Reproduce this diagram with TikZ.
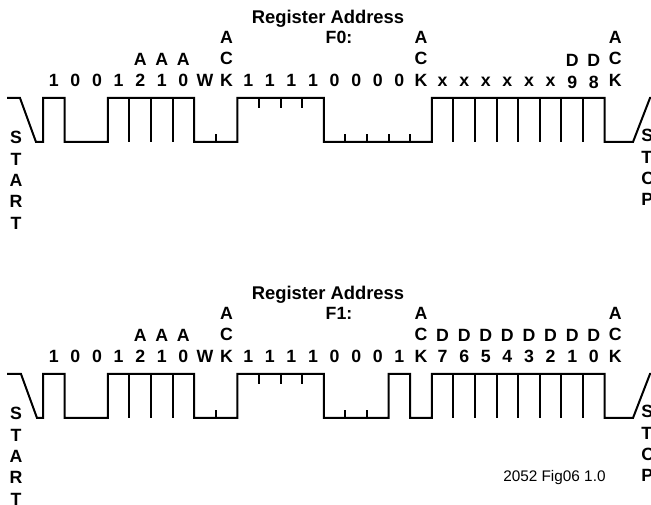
\documentclass[tikz,border=0pt]{standalone}
\usepackage{fontspec}
\setmainfont{Liberation Sans}
\newcommand{\tb}[1]{43+21.6*#1}
\begin{document}
\begin{tikzpicture}[x=0.75pt,y=-0.75pt,
  wave/.style={line width=1.5pt, line join=miter, line cap=butt},
  lbl/.style={anchor=base, inner sep=0pt, font=\bfseries\fontsize{13.3}{16}\selectfont},
  title/.style={anchor=base, inner sep=0pt, font=\bfseries\fontsize{13.8}{16}\selectfont},
  stoplbl/.style={lbl, anchor=base west}]
\useasboundingbox (0,0) rectangle (651,505);
\clip (0,0) rectangle (651,505);

% ================= TOP (F0) =================
\draw[wave] (7,98) -- (20,98) -- (36,142) -- (43,142) -- (43,98)
  -- (\tb{1},98) -- (\tb{1},142) -- (\tb{3},142) -- (\tb{3},98)
  -- (\tb{7},98) -- (\tb{7},142) -- (\tb{9},142) -- (\tb{9},98)
  -- (\tb{13},98) -- (\tb{13},142) -- (\tb{18},142) -- (\tb{18},98)
  -- (\tb{26},98) -- (\tb{26},142) -- (633,142) -- (650,98) -- (660,98);
\foreach \k in {4,5,6,19,20,21,22,23,24,25}
  \draw[wave] (\tb{\k},98) -- (\tb{\k},142);
\foreach \k in {8,14,15,16,17}
  \draw[wave] (\tb{\k},142) -- (\tb{\k},134);
\foreach \k in {10,11,12}
  \draw[wave] (\tb{\k},98) -- (\tb{\k},108);

\foreach \s [count=\k from 0] in {1,0,0,1,2,1,0,W,K,1,1,1,1,0,0,0,0,K,x,x,x,x,x,x}
  \node[lbl] (ta\k) at ({\tb{\k}+10.8},87) {\s};
\node[lbl] (ta24) at ({\tb{24}+10.8},89) {9};
\node[lbl] (ta25) at ({\tb{25}+10.8},89) {8};
\node[lbl] (ta26) at ({\tb{26}+10.8},87) {K};
\foreach \k in {4,5,6}
  \node[lbl] (tb\k) at ({\tb{\k}+10.8},66) {A};
\foreach \k in {8,17,26}
  \node[lbl] (tb\k) at ({\tb{\k}+10.8},65) {C};
\foreach \k in {24,25}
  \node[lbl] (tb\k) at ({\tb{\k}+10.8},66.5) {D};
\foreach \k in {8,17,26}
  \node[lbl] (tc\k) at ({\tb{\k}+10.8},44) {A};
\node[lbl] (tf) at (339,44) {F0:};
\node[title] (tr) at (328,24) {Register Address};

\foreach \s [count=\i from 0] in {S,T,A,R,T}
  \node[lbl] (tstart\i) at (16,144+21.3*\i) {\s};
\foreach \s [count=\i from 0] in {S,T,O,P}
  \node[stoplbl] (tstop\i) at (641,142+21.2*\i) {\s};

% ================= BOTTOM (F1) =================
\draw[wave] (7,374) -- (21,374) -- (37,418) -- (43,418) -- (43,374)
  -- (\tb{1},374) -- (\tb{1},418) -- (\tb{3},418) -- (\tb{3},374)
  -- (\tb{7},374) -- (\tb{7},418) -- (\tb{9},418) -- (\tb{9},374)
  -- (\tb{13},374) -- (\tb{13},418) -- (\tb{16},418) -- (\tb{16},374)
  -- (\tb{17},374) -- (\tb{17},418) -- (\tb{18},418) -- (\tb{18},374)
  -- (\tb{26},374) -- (\tb{26},418) -- (633,418) -- (650,374) -- (660,374);
\foreach \k in {4,5,6,19,20,21,22,23,24,25}
  \draw[wave] (\tb{\k},374) -- (\tb{\k},418);
\foreach \k in {8,14,15}
  \draw[wave] (\tb{\k},418) -- (\tb{\k},410);
\foreach \k in {10,11,12}
  \draw[wave] (\tb{\k},374) -- (\tb{\k},384);

\foreach \s [count=\k from 0] in {1,0,0,1,2,1,0,W,K,1,1,1,1,0,0,0,1,K,7,6,5,4,3,2,1,0,K}
  \node[lbl] (ba\k) at ({\tb{\k}+10.8},363) {\s};
\foreach \k in {4,5,6}
  \node[lbl] (bb\k) at ({\tb{\k}+10.8},342) {A};
\foreach \k in {8,17,26}
  \node[lbl] (bb\k) at ({\tb{\k}+10.8},341) {C};
\foreach \k in {18,...,25}
  \node[lbl] (bb\k) at ({\tb{\k}+10.8},341.5) {D};
\foreach \k in {8,17,26}
  \node[lbl] (bc\k) at ({\tb{\k}+10.8},320) {A};
\node[lbl] (bf) at (339,320) {F1:};
\node[title] (br) at (328,300) {Register Address};

\foreach \s [count=\i from 0] in {S,T,A,R,T}
  \node[lbl] (bstart\i) at (16,420+21.3*\i) {\s};
\foreach \s [count=\i from 0] in {S,T,O,P}
  \node[stoplbl] (bstop\i) at (641,418+21.2*\i) {\s};

\node[anchor=base west, inner sep=0pt, font=\fontsize{11.5}{14}\selectfont] (fig) at (503,482) {2052 Fig06 1.0};
\end{tikzpicture}
\end{document}
